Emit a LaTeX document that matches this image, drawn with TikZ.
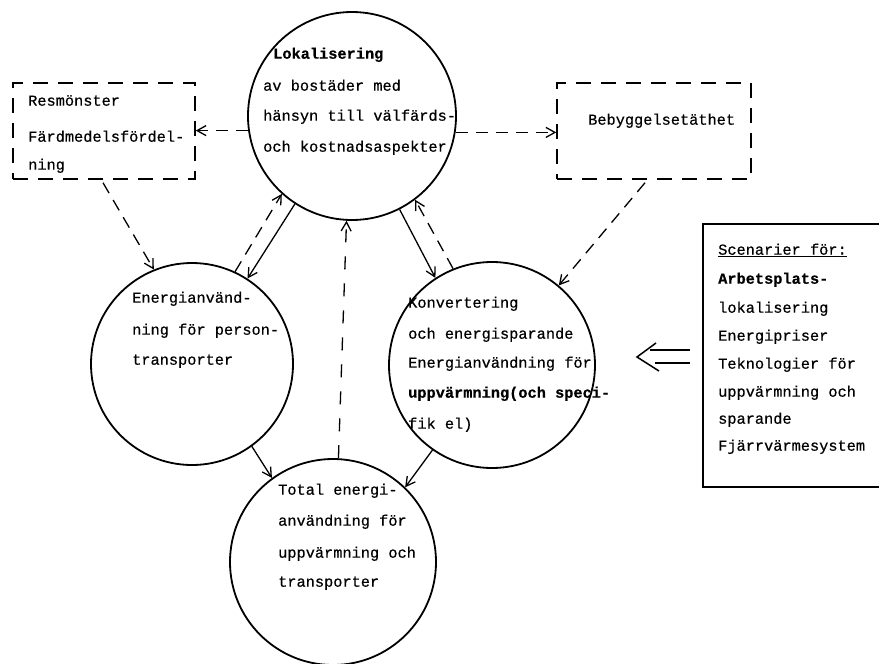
\documentclass[tikz,border=0pt]{standalone}
\usepackage{fontspec}
\newfontfamily\tw[FakeBold=0.5]{Liberation Mono}
\usetikzlibrary{arrows.meta}
\tikzset{
  circ/.style={circle, draw, line width=1.8pt, inner sep=0pt},
  dbox/.style={rectangle, draw, line width=1.5pt, dash pattern=on 15pt off 10pt, inner sep=0pt},
  sbox/.style={rectangle, draw, line width=1.6pt, inner sep=0pt},
  txt/.style={anchor=west, inner sep=0pt, text height=1.5ex, text depth=.25ex, font=\tw\fontsize{15.3}{18}\selectfont},
  btxt/.style={txt, font=\tw\bfseries\fontsize{15.3}{18}\selectfont},
  sarr/.style={line width=1.3pt, -{Straight Barb[length=9pt, width=10pt]}},
  darr/.style={line width=1.3pt, dash pattern=on 12pt off 8pt, -{Straight Barb[length=9pt, width=10pt]}},
}
\begin{document}
\begin{tikzpicture}[x=1pt, y=-1pt]
\useasboundingbox (0,0) rectangle (879,664);
% circles
\node[circ, minimum size=208pt] (T) at (352,116) {};
\node[circ, minimum size=202pt] (L) at (192,364) {};
\node[circ, minimum size=206pt] (R) at (492,365) {};
\node[circ, minimum size=206pt] (B) at (333,562) {};
% boxes
\node[dbox, minimum width=182pt, minimum height=96pt] (lbox) at (104,131) {};
\node[dbox, minimum width=194pt, minimum height=96pt] (rbox) at (654,131) {};
\node[sbox, minimum width=186pt, minimum height=263pt] (sc) at (796,355.5) {};
% top circle text
\node[btxt] (t1) at (273,56) {Lokalisering};
\node[txt] (t2) at (263,88) {av bostäder med};
\node[txt] (t3) at (263,118) {hänsyn till välfärds-};
\node[txt] (t4) at (263,149) {och kostnadsaspekter};
% left box text
\node[txt] (l1) at (28,103) {Resmönster};
\node[txt] (l2) at (28,139) {Färdmedelsfördel-};
\node[txt] (l3) at (28,167) {ning};
% right box text
\node[txt] (r1) at (588,122) {Bebyggelsetäthet};
% left circle text
\node[txt] (e1) at (132,300) {Energianvänd-};
\node[txt] (e2) at (132,332) {ning för person-};
\node[txt] (e3) at (132,362) {transporter};
% right circle text
\node[txt] (k1) at (408,305) {Konvertering};
\node[txt] (k2) at (408,336) {och energisparande};
\node[txt] (k3) at (408,365) {Energianvändning för};
\node[btxt] (k4) at (408,395) {uppvärmning(och speci-};
\node[txt] (k5) at (408,426) {fik el)};
% bottom circle text
\node[txt] (b1) at (278,492) {Total energi-};
\node[txt] (b2) at (278,523) {användning för};
\node[txt] (b3) at (278,555) {uppvärmning och};
\node[txt] (b4) at (278,584) {transporter};
% scenario text
\node[txt] (s1) at (718,252) {\underline{Scenarier för:}};
\node[btxt] (s2) at (718,281) {Arbetsplats-};
\node[txt] (s3) at (718,310) {lokalisering};
\node[txt] (s4) at (718,338) {Energipriser};
\node[txt] (s5) at (718,366) {Teknologier för};
\node[txt] (s6) at (718,394) {uppvärmning och};
\node[txt] (s7) at (718,421) {sparande};
\node[txt] (s8) at (718,448) {Fjärrvärmesystem};
% connectors
\draw[darr] (T.188) -- (T.188 -| lbox.east);
\draw[darr] (T.351) -- (T.351 -| rbox.west);
\draw[darr] ([xshift=-1pt, yshift=-3pt]lbox.south) -- (L.112);
\draw[darr] ([xshift=-9pt, yshift=-3pt]rbox.south) -- (R.50);
\draw[darr] (L.65) -- (T.228.5);
\draw[sarr] (T.237.4) -- (L.57);
\draw[sarr] (T.297) -- (R.123);
\draw[darr] (R.112) -- (T.307.7);
\draw[line width=1.3pt, dash pattern=on 13pt off 14pt, -{Straight Barb[length=9pt, width=10pt]}] (B.87) -- (T.267);
\draw[sarr] (L.306) -- (B.126);
\draw[sarr] (R.235) -- (B.46);
% double arrow
\coordinate (da) at (690,350);
\coordinate (db) at (690,363);
\coordinate (tip) at (637,357);
\draw[line width=1.5pt] (da) -- (650,350);
\draw[line width=1.5pt] (db) -- (655,363);
\draw[line width=1.5pt] (656,343) -- (tip) -- (659,371);
\end{tikzpicture}
\end{document}
